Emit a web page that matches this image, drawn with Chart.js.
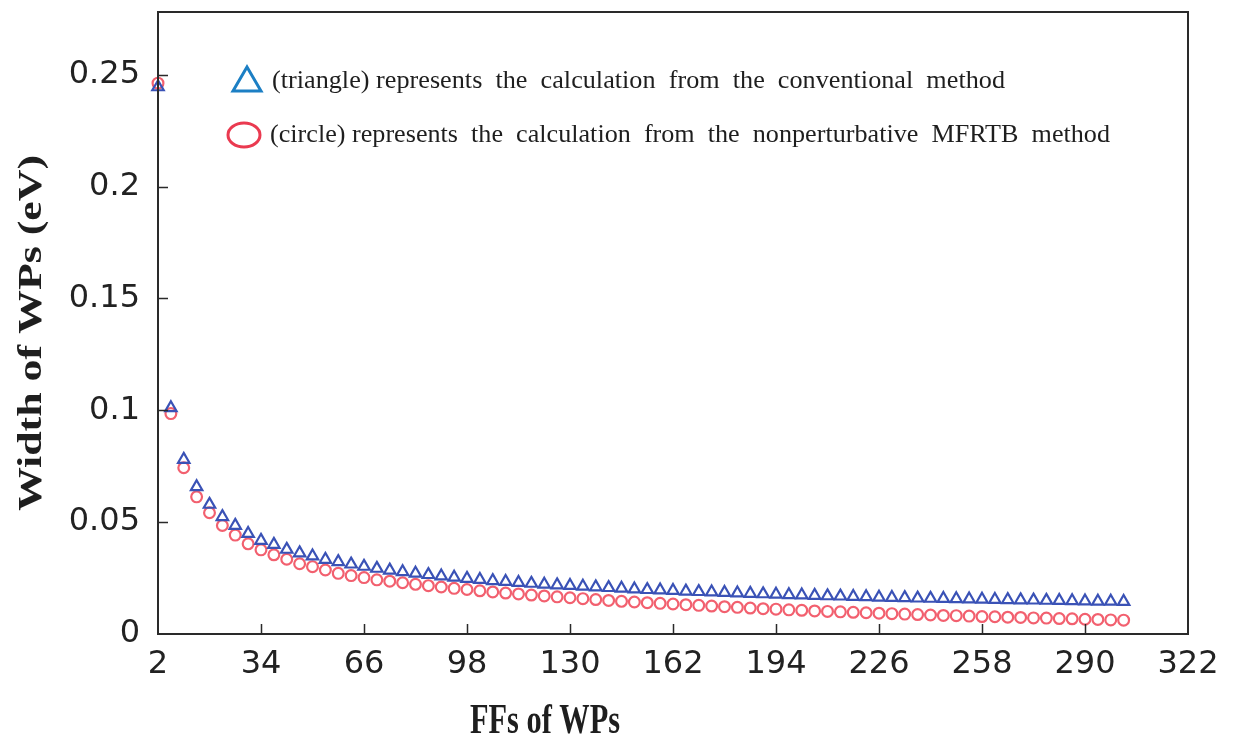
<!DOCTYPE html>
<html>
<head>
<meta charset="utf-8">
<script src="https://cdn.jsdelivr.net/npm/chart.js@4.4.0/dist/chart.umd.min.js"></script>
<style>
  html, body { margin: 0; padding: 0; background: #fff; }
  #contenedor { width: 1237px; height: 738px; position: relative; }
</style>
</head>
<body>
<div id="contenedor"><canvas id="miGrafica"></canvas></div>
<script>
// Frecuencias (FFs) de los paquetes de onda
const ffs = [2, 6, 10, 14, 18, 22, 26, 30, 34, 38, 42, 46, 50, 54, 58, 62, 66, 70, 74, 78,
  82, 86, 90, 94, 98, 102, 106, 110, 114, 118, 122, 126, 130, 134, 138, 142, 146, 150, 154, 158,
  162, 166, 170, 174, 178, 182, 186, 190, 194, 198, 202, 206, 210, 214, 218, 222, 226, 230, 234, 238,
  242, 246, 250, 254, 258, 262, 266, 270, 274, 278, 282, 286, 290, 294, 298, 302];

// Método convencional (triángulos)
const anchoConvencional = [0.2445, 0.1011, 0.0780, 0.0658, 0.0579, 0.0524, 0.0485, 0.0449, 0.0418, 0.0400,
  0.0378, 0.0362, 0.0348, 0.0333, 0.0323, 0.0312, 0.0302, 0.0293, 0.0285, 0.0278,
  0.0271, 0.0265, 0.0259, 0.0253, 0.0248, 0.0243, 0.0238, 0.0234, 0.0230, 0.0226,
  0.0222, 0.0219, 0.0216, 0.0213, 0.0210, 0.0207, 0.0204, 0.0201, 0.0198, 0.0196,
  0.0194, 0.0191, 0.0189, 0.0187, 0.0185, 0.0183, 0.0181, 0.0179, 0.0177, 0.0175,
  0.0174, 0.0172, 0.0170, 0.0169, 0.0167, 0.0166, 0.0164, 0.0163, 0.0162, 0.0160,
  0.0159, 0.0158, 0.0157, 0.0156, 0.0155, 0.0154, 0.0153, 0.0152, 0.0151, 0.0150,
  0.0149, 0.0148, 0.0147, 0.0146, 0.0146, 0.0145];

// Método no perturbativo MFRTB (círculos)
const anchoMFRTB = [0.2462, 0.0985, 0.0743, 0.0613, 0.0542, 0.0485, 0.0442, 0.0403, 0.0376, 0.0354,
  0.0334, 0.0314, 0.0301, 0.0286, 0.0271, 0.0261, 0.0252, 0.0242, 0.0236, 0.0229,
  0.0222, 0.0216, 0.0210, 0.0204, 0.0199, 0.0193, 0.0188, 0.0183, 0.0179, 0.0174,
  0.0170, 0.0166, 0.0162, 0.0158, 0.0154, 0.0150, 0.0146, 0.0143, 0.0140, 0.0137,
  0.0134, 0.0131, 0.0128, 0.0125, 0.0122, 0.0119, 0.0116, 0.0113, 0.0111, 0.0108,
  0.0106, 0.0103, 0.0101, 0.0099, 0.0097, 0.0095, 0.0093, 0.0091, 0.0089, 0.0087,
  0.0085, 0.0083, 0.0082, 0.0080, 0.0078, 0.0077, 0.0075, 0.0074, 0.0072, 0.0071,
  0.0069, 0.0068, 0.0066, 0.0065, 0.0063, 0.0062];

const ticksX = [2, 34, 66, 98, 130, 162, 194, 226, 258, 290, 322];
const ticksY = [0, 0.05, 0.1, 0.15, 0.2, 0.25];

const textoLeyenda1 = '(triangle) represents  the  calculation  from  the  conventional  method';
const textoLeyenda2 = '(circle) represents  the  calculation  from  the  nonperturbative  MFRTB  method';
const tituloX = 'FFs of WPs';
const tituloY = 'Width of WPs (eV)';

// Escribe un texto ajustado a un ancho dado (escalando solo en horizontal)
function textoAjustado(ctx, texto, x, y, ancho) {
  let medida = ctx.measureText(texto).width;
  ctx.save();
  ctx.translate(x, y);
  ctx.scale(ancho / medida, 1);
  ctx.fillText(texto, 0, 0);
  ctx.restore();
}

// Marco, marcas interiores, leyenda y títulos de los ejes
const marcoEjes = {
  id: 'marcoEjes',
  afterDraw(chart) {
    const ctx = chart.ctx;
    const area = chart.chartArea;
    const sx = chart.scales.x, sy = chart.scales.y;
    ctx.save();
    ctx.strokeStyle = '#2a2a2a';
    ctx.lineWidth = 2;
    ctx.strokeRect(area.left, area.top, area.right - area.left, area.bottom - area.top);

    ctx.lineWidth = 1.5;
    ctx.beginPath();
    ticksX.slice(1, -1).forEach(v => {
      let px = Math.round(sx.getPixelForValue(v)) + 0.5;
      ctx.moveTo(px, area.bottom);
      ctx.lineTo(px, area.bottom - 10);
    });
    ticksY.slice(1).forEach(v => {
      let py = Math.round(sy.getPixelForValue(v)) + 0.5;
      ctx.moveTo(area.left, py);
      ctx.lineTo(area.left + 10, py);
    });
    ctx.stroke();

    // Leyenda
    ctx.lineWidth = 3;
    ctx.strokeStyle = '#1c7fc4';
    ctx.beginPath();
    ctx.moveTo(247, 67);
    ctx.lineTo(261, 91);
    ctx.lineTo(233, 91);
    ctx.closePath();
    ctx.stroke();

    ctx.strokeStyle = '#ea3a50';
    ctx.beginPath();
    ctx.ellipse(244, 135, 16, 12, 0, 0, Math.PI * 2);
    ctx.stroke();

    ctx.fillStyle = '#1e1e1e';
    ctx.textBaseline = 'alphabetic';
    ctx.textAlign = 'left';
    ctx.font = '26px "Liberation Serif"';
    textoAjustado(ctx, textoLeyenda1, 272, 88, 733);
    textoAjustado(ctx, textoLeyenda2, 270, 142, 840);

    // Títulos de los ejes
    ctx.font = 'bold 42px "Liberation Serif"';
    textoAjustado(ctx, tituloX, 470, 733, 150);

    ctx.save();
    ctx.translate(41, 511);
    ctx.rotate(-Math.PI / 2);
    ctx.font = 'bold 43px "Liberation Serif"';
    let largo = ctx.measureText(tituloY).width;
    ctx.scale(356 / largo, 0.76);
    ctx.fillText(tituloY, 0, 0);
    ctx.restore();

    ctx.restore();
  }
};

let ctx = document.getElementById('miGrafica').getContext('2d');
let miGrafica = new Chart(ctx, {
  type: 'scatter',
  data: {
    datasets: [{
      label: 'conventional',
      data: ffs.map((f, i) => ({ x: f, y: anchoConvencional[i] })),
      pointStyle: 'triangle',
      pointRadius: 6.6,
      borderColor: '#3a52b6',
      backgroundColor: 'rgba(0,0,0,0)',
      borderWidth: 2.2,
      clip: false
    }, {
      label: 'MFRTB',
      data: ffs.map((f, i) => ({ x: f, y: anchoMFRTB[i] })),
      pointStyle: 'circle',
      pointRadius: 5.4,
      borderColor: '#f2606f',
      backgroundColor: 'rgba(0,0,0,0)',
      borderWidth: 2.2,
      clip: false
    }]
  },
  options: {
    responsive: true,
    maintainAspectRatio: false,
    animation: false,
    events: [],
    layout: { padding: { left: 0, top: 12, right: 49, bottom: 0 } },
    plugins: {
      legend: { display: false },
      tooltip: { enabled: false }
    },
    scales: {
      x: {
        type: 'linear',
        min: 2,
        max: 322,
        afterBuildTicks: s => { s.ticks = ticksX.map(v => ({ value: v })); },
        afterFit: s => { s.height = 104; s.paddingLeft = 0; s.paddingRight = 0; },
        grid: { display: false, drawTicks: false },
        border: { display: false },
        ticks: {
          padding: 11,
          color: '#222',
          font: { family: '"DejaVu Sans"', size: 32 },
          maxRotation: 0,
          autoSkip: false,
          callback: v => String(v)
        }
      },
      y: {
        min: 0,
        max: 0.278,
        afterBuildTicks: s => { s.ticks = ticksY.map(v => ({ value: v })); },
        afterFit: s => { s.width = 158; s.paddingTop = 0; s.paddingBottom = 0; },
        grid: { display: false, drawTicks: false },
        border: { display: false },
        ticks: {
          padding: 18,
          color: '#222',
          font: { family: '"DejaVu Sans"', size: 32 },
          autoSkip: false,
          callback: v => String(v)
        }
      }
    }
  },
  plugins: [marcoEjes]
});
</script>
</body>
</html>
